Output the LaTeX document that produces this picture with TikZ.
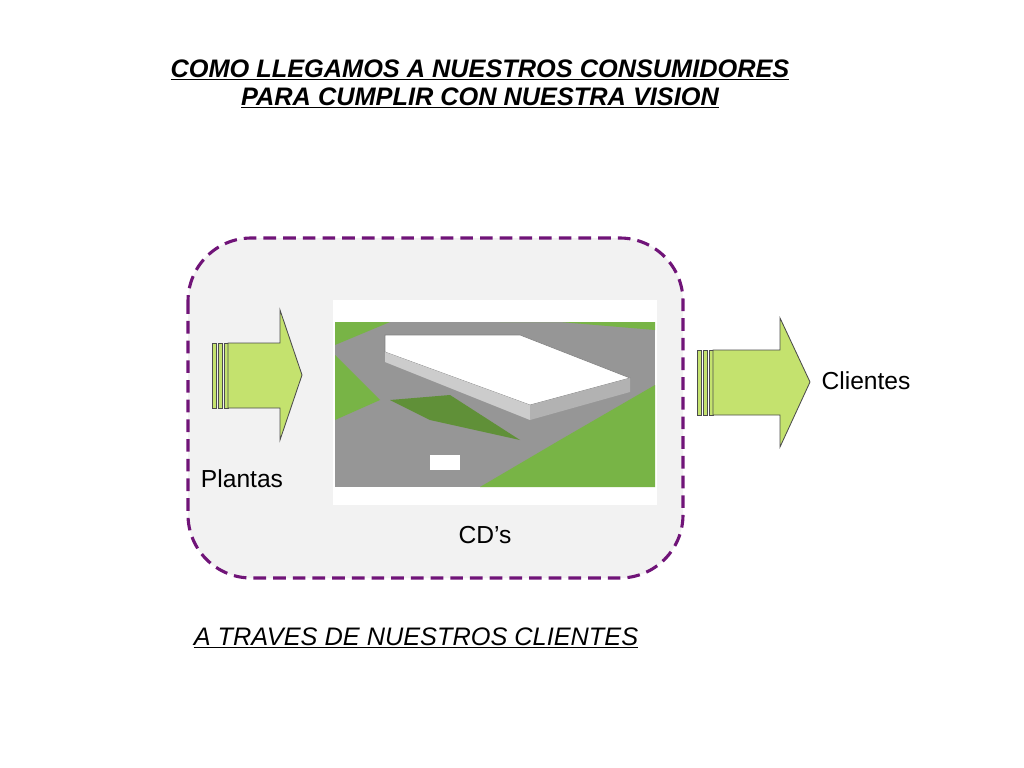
\documentclass[tikz,border=0pt]{standalone}
\usepackage{fontspec}
\setmainfont{Liberation Sans}
\usetikzlibrary{positioning}
\definecolor{frame}{RGB}{112,20,120}
\definecolor{panel}{RGB}{242,242,242}
\definecolor{leaf}{RGB}{196,226,110}
\definecolor{grass}{RGB}{120,180,70}
\definecolor{paved}{RGB}{150,150,150}
\tikzset{
  title/.style={font=\fontsize{18}{20}\selectfont\bfseries\itshape},
  label/.style={font=\fontsize{17.5}{20}\selectfont},
  flow/.style={fill=leaf, draw=black!70, line width=0.6pt}
}
\begin{document}
\begin{tikzpicture}[x=0.025cm, y=-0.025cm]
    \useasboundingbox (0,0) rectangle (1024,768);
    % Titles
    \node[title] (t1) at (480,70) {\underline{COMO LLEGAMOS A NUESTROS CONSUMIDORES}};
    \node[title] (t2) at (480,98) {\underline{PARA CUMPLIR CON NUESTRA VISION}};

    % Dashed frame
    \draw[frame, fill=panel, line width=2.2pt, dash pattern=on 9pt off 5pt, rounded corners=45] (188,238) rectangle (683,578);

    % Picture of the distribution centre
    \fill[white] (333,300) rectangle (657,505);
    \fill[paved] (335,322) rectangle (655,487);
    \fill[grass] (335,322) -- (390,322) -- (335,345) -- cycle;
    \fill[grass] (500,322) -- (655,322) -- (655,330) -- (560,322) -- cycle;
    \fill[grass] (335,355) -- (380,400) -- (335,420) -- cycle;
    \fill[grass] (560,440) -- (655,385) -- (655,487) -- (480,487) -- cycle;
    \fill[grass!80!black] (390,400) -- (450,395) -- (520,440) -- (430,420) -- cycle;
    \fill[white, draw=gray] (385,335) -- (520,335) -- (630,378) -- (530,405) -- (385,352) -- cycle;
    \fill[gray!40] (385,352) -- (530,405) -- (530,420) -- (385,362) -- cycle;
    \fill[gray!60] (530,405) -- (630,378) -- (630,392) -- (530,420) -- cycle;
    \fill[white] (430,455) rectangle (460,470);

    % Arrows
    \foreach \x in {212,218,224}
        \draw[flow] (\x,343) rectangle (\x+4,408);
    \draw[flow] (228,343) -- (280,343) -- (280,310) -- (302,375) -- (280,440) -- (280,408) -- (228,408) -- cycle;
    \foreach \x in {697,703,709}
        \draw[flow] (\x,350) rectangle (\x+4,415);
    \draw[flow] (713,350) -- (780,350) -- (780,318) -- (810,382) -- (780,447) -- (780,415) -- (713,415) -- cycle;

    % Labels
    \node[label] (plantas) at (242,479) {Plantas};
    \node[label] (cds) at (485,535) {CD’s};
    \node[label] (clientes) at (866,381) {Clientes};
    \node[label, font=\fontsize{18}{20}\selectfont\itshape] (via) at (416,638) {\underline{A TRAVES DE NUESTROS CLIENTES}};
\end{tikzpicture}
\end{document}
